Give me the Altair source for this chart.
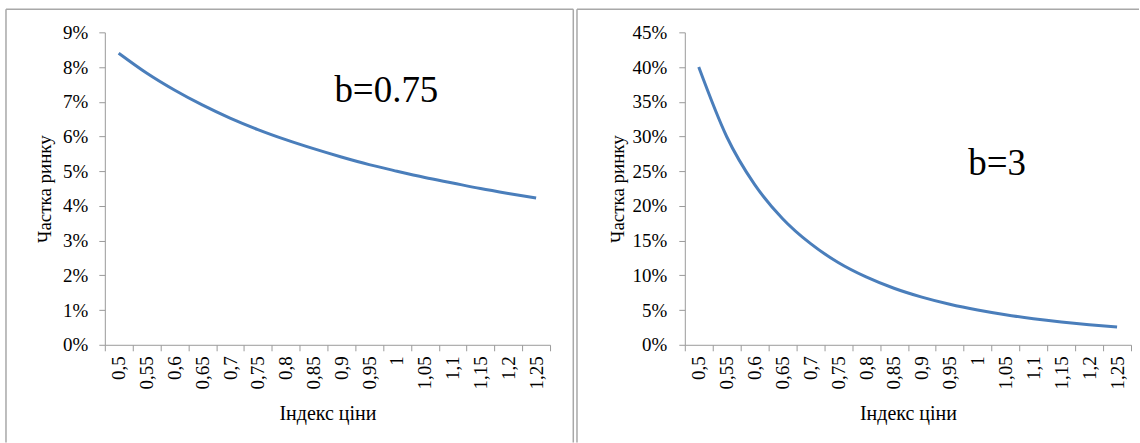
import altair as alt
import pandas as pd

# Price index categories (comma decimal separator as printed on the axis)
price_index = ["0,5", "0,55", "0,6", "0,65", "0,7", "0,75", "0,8", "0,85",
               "0,9", "0,95", "1", "1,05", "1,1", "1,15", "1,2", "1,25"]

# Market share for elasticity b = 0.75
share_b075 = [0.0840, 0.0783, 0.0734, 0.0691, 0.0653, 0.0620, 0.0591, 0.0565,
              0.0541, 0.0519, 0.0500, 0.0482, 0.0466, 0.0450, 0.0436, 0.0423]

# Market share for elasticity b = 3
share_b3 = [0.400, 0.300, 0.231, 0.182, 0.146, 0.1185, 0.0977, 0.0814,
            0.0686, 0.0583, 0.0500, 0.0432, 0.0376, 0.0329, 0.0289, 0.0256]

y_ticks_left = [i / 100 for i in range(0, 10)]
y_ticks_right = [i / 100 for i in range(0, 50, 5)]

FONT = "Times New Roman, Liberation Serif, DejaVu Serif, serif"
AXIS_GREY = "#9a9a9a"
FRAME_GREY = "#a8a8a8"
LINE_BLUE = "#4a7ebb"
PLOT_H = 313
TOP = 32


def panel(values, y_max, y_ticks, label_text, label_x, label_y,
          plot_w, left_space, right_space, frame_left, frame_right,
          draw_right_edge, ytitle_x, ylabel_pad):
    df = pd.DataFrame({"price": price_index, "share": values})
    one = alt.datum.price == "1"

    # white backdrop that fixes the panel's outer box
    backdrop = alt.Chart(df).mark_rect(fill="white", strokeWidth=0).encode(
        x=alt.value(-left_space), x2=alt.value(plot_w + right_space),
        y=alt.value(-TOP), y2=alt.value(443 - TOP),
    ).transform_filter(one)

    frame_style = dict(color=FRAME_GREY, strokeWidth=1.5)
    frame_top = alt.Chart(df).mark_rule(**frame_style).encode(
        x=alt.value(frame_left), x2=alt.value(frame_right),
        y=alt.value(9 - TOP),
    ).transform_filter(one)
    frame_l = alt.Chart(df).mark_rule(**frame_style).encode(
        x=alt.value(frame_left), y=alt.value(9 - TOP), y2=alt.value(443 - TOP),
    ).transform_filter(one)
    layers = [backdrop, frame_top, frame_l]
    if draw_right_edge:
        frame_r = alt.Chart(df).mark_rule(**frame_style).encode(
            x=alt.value(frame_right), y=alt.value(9 - TOP), y2=alt.value(443 - TOP),
        ).transform_filter(one)
        layers.append(frame_r)

    x_enc = alt.X(
        "price:N", sort=price_index, bandPosition=0.5,
        scale=alt.Scale(type="band", paddingInner=0, paddingOuter=0),
        axis=alt.Axis(
            title="Індекс ціни", tickBand="extent", labelAngle=270,
            labelAlign="right", labelBaseline="middle", labelPadding=5,
            tickSize=6, titleX=plot_w / 2, titleY=74.5,
            titleBaseline="alphabetic", titleAlign="center",
            titleFontSize=20, zindex=1,
        ),
    )
    y_enc = alt.Y(
        "share:Q", scale=alt.Scale(domain=[0, y_max], nice=False, zero=True),
        axis=alt.Axis(
            title="Частка ринку", values=y_ticks, format=".0%",
            labelPadding=ylabel_pad, tickSize=6, titleAngle=270,
            titleX=ytitle_x, titleY=PLOT_H / 2, titleAlign="center",
            titleBaseline="alphabetic", titleFontSize=19, zindex=1,
        ),
    )
    line = alt.Chart(df).mark_line(
        color=LINE_BLUE, strokeWidth=3, interpolate="monotone"
    ).encode(x=x_enc, y=y_enc)

    note = alt.Chart(df).mark_text(
        font=FONT, fontSize=37, align="left", baseline="alphabetic", color="black"
    ).encode(
        x=alt.value(label_x), y=alt.value(label_y), text=alt.value(label_text)
    ).transform_filter(one)

    return alt.layer(*layers, line, note).properties(width=plot_w, height=PLOT_H)


left = panel(share_b075, 0.09, y_ticks_left, "b=0.75", 230, 70,
             plot_w=446, left_space=105, right_space=470.5 - 446,
             frame_left=6 - 105, frame_right=574.3 - 105, draw_right_edge=True,
             ytitle_x=-54.5, ylabel_pad=11)

right = panel(share_b3, 0.45, y_ticks_right, "b=3", 284, 143,
              plot_w=447, left_space=685 - 575.5, right_space=1140 - 685 - 447,
              frame_left=577 - 685, frame_right=1140 - 685, draw_right_edge=False,
              ytitle_x=-61, ylabel_pad=12)

chart = alt.hconcat(left, right, spacing=0).properties(
    padding=0
).configure_view(
    strokeWidth=0
).configure_axis(
    grid=False,
    domainColor=AXIS_GREY,
    tickColor=AXIS_GREY,
    domainWidth=1,
    tickWidth=1,
    labelFont=FONT,
    labelFontSize=19,
    labelColor="black",
    titleFont=FONT,
    titleFontWeight="normal",
    titleColor="black",
    labelOverlap=False,
)

chart.save("out.html", embed_options={"renderer": "svg", "actions": False})
